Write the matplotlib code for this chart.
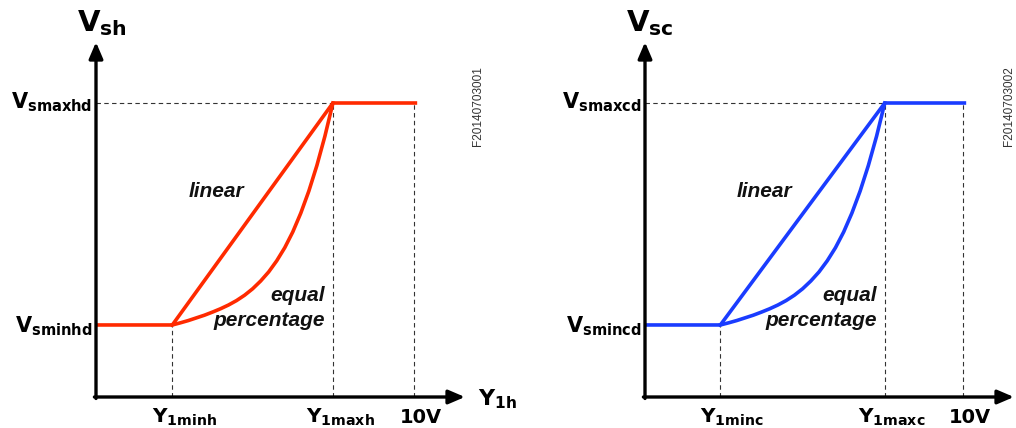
import matplotlib
matplotlib.use("Agg")
from matplotlib import pyplot as plt

# levels of the output signal (same for both panels)
v_min_level = 2.45
v_max_level = 10.0
v_end = 10.1          # flat top runs a bit past 10V

# input positions, 0..10 V scale
y1_min = [2.4, 2.37]
y1_max = [7.45, 7.54]
ten_v = 10.0

# equal percentage curve, as fraction of the span
eq_t = [0, .05, .1, .15, .2, .25, .3, .35, .4, .45, .5, .55, .6, .65, .7, .75, .8, .85, .9, .95, 1]
eq_v = [0, .0096, .020, .032, .044, .058, .073, .090, .110, .134, .163, .198, .239, .289, .348, .419,
        .504, .603, .718, .850, 1]

colors = ["#ff2a00", "#1a3cff"]
y_titles = [r"$V_{sh}$", r"$V_{sc}$"]
max_labels = [r"$V_{smaxhd}$", r"$V_{smaxcd}$"]
min_labels = [r"$V_{sminhd}$", r"$V_{smincd}$"]
x_min_labels = [r"$Y_{1minh}$", r"$Y_{1minc}$"]
x_max_labels = [r"$Y_{1maxh}$", r"$Y_{1maxc}$"]
x_titles = [r"$Y_{1h}$", None]
codes = ["F20140703001", "F20140703002"]

plt.rcParams["font.family"] = ["DejaVu Sans"]
plt.rcParams["mathtext.fontset"] = "custom"
plt.rcParams["mathtext.rm"] = "DejaVu Sans:bold"
plt.rcParams["mathtext.it"] = "DejaVu Sans:bold"
plt.rcParams["mathtext.bf"] = "DejaVu Sans:bold"
plt.rcParams["mathtext.default"] = "rm"

W, H = 1016, 428
fig = plt.figure(figsize=(W / 100, H / 100), dpi=100)

xs_px = 31.8   # pixels per x unit
ys_px = 29.4   # pixels per y unit
origins = [96, 645]
base_y = 397
ax_w, ax_h = 374, 357

for i in range(2):
    ax = fig.add_axes([origins[i] / W, (H - base_y) / H, ax_w / W, ax_h / H])
    ax.set_xlim(0, ax_w / xs_px)
    ax.set_ylim(0, ax_h / ys_px)
    ax.axis("off")

    c = colors[i]
    x0, x1 = y1_min[i], y1_max[i]

    # axes with arrows
    arr = dict(arrowstyle="-|>,head_width=0.3,head_length=0.7", lw=2.4, color="black",
               mutation_scale=14, shrinkA=0, shrinkB=0)
    ax.annotate("", xy=(11.6, 0), xytext=(-0.05, 0), arrowprops=arr, annotation_clip=False)
    ax.annotate("", xy=(0, 12.07), xytext=(0, -0.05), arrowprops=arr, annotation_clip=False)

    # dashed guide lines
    dash = dict(color="#333333", lw=0.8, ls=(0, (4, 3)))
    ax.plot([0, x1], [v_max_level, v_max_level], **dash)
    ax.plot([x0, x0], [0, v_min_level], **dash)
    ax.plot([x1, x1], [0, v_max_level], **dash)
    ax.plot([ten_v, ten_v], [0, v_max_level], **dash)

    # curves
    ax.plot([0, x0, x1, v_end], [v_min_level, v_min_level, v_max_level, v_max_level],
            color=c, lw=2.6, solid_capstyle="butt", solid_joinstyle="round")
    ax.plot([x0 + t * (x1 - x0) for t in eq_t],
            [v_min_level + v * (v_max_level - v_min_level) for v in eq_v],
            color=c, lw=2.6, solid_joinstyle="round")

    # curve labels
    lab = dict(family="Liberation Sans", fontsize=15, fontweight="bold", fontstyle="italic",
               color="#111111")
    ax.text(x0 + 1.4, 7.0, "linear", ha="center", va="center", **lab)
    ax.text(x1 - 0.25, 3.45, "equal", ha="right", va="center", **lab)
    ax.text(x1 - 0.25, 2.6, "percentage", ha="right", va="center", **lab)

    # axis labels
    ax.text(-0.6, 12.45, y_titles[i], fontsize=21, ha="left", va="baseline", clip_on=False)
    ax.text(-0.12, v_max_level - 0.17, max_labels[i], fontsize=15, ha="right", va="baseline",
            clip_on=False)
    ax.text(-0.12, v_min_level - 0.24, min_labels[i], fontsize=15, ha="right", va="baseline",
            clip_on=False)
    ax.text(x0 - 0.63, -0.88, x_min_labels[i], fontsize=14.5, ha="left", va="baseline", clip_on=False)
    ax.text(x1 - 0.85, -0.88, x_max_labels[i], fontsize=14.5, ha="left", va="baseline", clip_on=False)
    ax.text(ten_v - 0.44, -0.88, "10V", fontsize=14, fontweight="bold", ha="left", va="baseline",
            clip_on=False)
    if x_titles[i]:
        ax.text(12.0, -0.27, x_titles[i], fontsize=16, ha="left", va="baseline", clip_on=False)

    ax.text(12.0 - 0.55 * i, 9.9, codes[i], family="Liberation Sans", fontsize=8.5, rotation=90,
            ha="center", va="center", color="#333333", clip_on=False)

plt.savefig("out.png", dpi=100)
